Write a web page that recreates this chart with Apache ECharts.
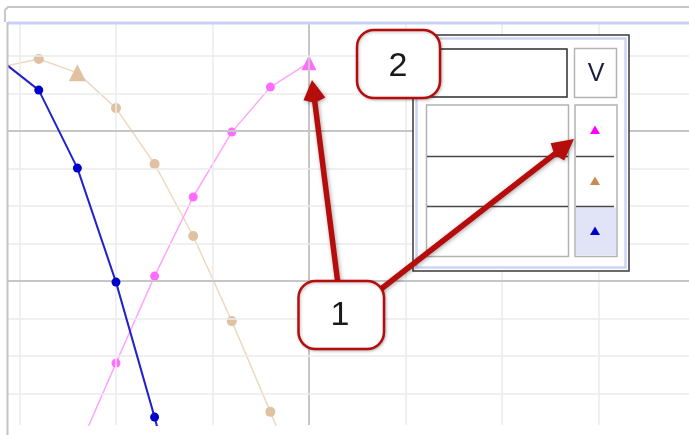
<!DOCTYPE html>
<html>
<head>
<meta charset="utf-8">
<style>
  html, body { margin: 0; padding: 0; background: #fff; }
  #chart { width: 689px; height: 435px; }
</style>
<script src="https://cdn.jsdelivr.net/npm/echarts@6/dist/echarts.min.js"></script>
</head>
<body>
<div id="chart"></div>
<script>
// grid ticks, a darker line every 4 units
const xTicks = [-3, -2, -1, 0, 1, 2, 3];
const yTicks = [-3, -2, -1, 0, 1, 2, 3, 4, 5, 6];
const majorEvery = 4;

// blue trace
const blueX = [-3.2, -2.8, -2.4, -2.0, -1.6, -1.2];
const blueY = [5.9, 5.09, 3.01, -0.03, -3.63, -7.6];
// tan trace
const tanX = [-3.2, -2.8, -2.4, -2.0, -1.6, -1.2, -0.8, -0.4, 0];
const tanY = [5.7, 5.92, 5.55, 4.61, 3.12, 1.2, -1.07, -3.49, -6.0];
// pink trace
const pinkX = [-2.4, -2.0, -1.6, -1.2, -0.8, -0.4, 0];
const pinkY = [-4.55, -2.19, 0.13, 2.24, 3.97, 5.17, 5.82];

// the selected point of each trace is drawn as a triangle
const tanSelected = -2.4;
const pinkSelected = 0;

const chart = echarts.init(document.getElementById('chart'));

function points(xs, ys, selected, triSize) {
    return xs.map((x, i) => {
        if (x === selected) return { value: [x, ys[i]], symbol: 'triangle', symbolSize: triSize };
        return [x, ys[i]];
    });
}

// gridlines as mark lines so they sit on whole units
const minorStyle = { color: '#ebebeb', width: 1.5, type: 'solid' };
const majorStyle = { color: '#c6c6c6', width: 2, type: 'solid' };
const gridLines = []
    .concat(xTicks.map(v => ({ xAxis: v, lineStyle: v % majorEvery === 0 ? majorStyle : minorStyle })))
    .concat(yTicks.map(v => ({ yAxis: v, lineStyle: v % majorEvery === 0 ? majorStyle : minorStyle })));

// arrow outline from (x1,y1) to tip (x2,y2)
function arrowPts(x1, y1, x2, y2, w, hl, hw) {
    const dx = x2 - x1, dy = y2 - y1, len = Math.hypot(dx, dy);
    const ux = dx / len, uy = dy / len, nx = -uy, ny = ux;
    const bx = x2 - ux * hl, by = y2 - uy * hl;
    return [
        [x1 + nx * w / 2, y1 + ny * w / 2],
        [bx + nx * w / 2, by + ny * w / 2],
        [bx + nx * hw / 2 + ux * 3, by + ny * hw / 2 + uy * 3],
        [x2, y2],
        [bx - nx * hw / 2 + ux * 3, by - ny * hw / 2 + uy * 3],
        [bx - nx * w / 2, by - ny * w / 2],
        [x1 - nx * w / 2, y1 - ny * w / 2]
    ];
}

function tri(cx, cy, color) {
    return {
        type: 'polygon', z: 110,
        shape: { points: [[cx, cy - 4.5], [cx + 5, cy + 4], [cx - 5, cy + 4]] },
        style: { fill: color }
    };
}

const red = '#b70c0c';
const arrowStyle = { fill: red, shadowBlur: 4, shadowColor: 'rgba(0,0,0,0.35)', shadowOffsetX: 1, shadowOffsetY: 1 };

const graphics = [
    // top bar
    { type: 'polyline', z: 90, shape: { points: [[5, 22], [5, 10], [8, 7], [689, 7]] }, style: { stroke: '#c8c8c8', lineWidth: 2, fill: null } },
    { type: 'line', z: 90, shape: { x1: 8, y1: 23, x2: 689, y2: 23 }, style: { stroke: '#c9d1f7', lineWidth: 3 } },
    { type: 'line', z: 90, shape: { x1: 7.5, y1: 22, x2: 7.5, y2: 435 }, style: { stroke: '#c4c4c4', lineWidth: 2 } },

    // panel
    { type: 'rect', z: 100, shape: { x: 413, y: 35, width: 216, height: 236 }, style: { fill: '#fff', stroke: '#3a3a3a', lineWidth: 1.5 } },
    { type: 'rect', z: 101, shape: { x: 416.5, y: 38.5, width: 209, height: 229 }, style: { fill: null, stroke: '#cdd5f6', lineWidth: 2.5 } },
    { type: 'rect', z: 102, shape: { x: 428, y: 49, width: 139, height: 48 }, style: { fill: '#fff', stroke: '#2e2e2e', lineWidth: 1.5 } },
    { type: 'rect', z: 102, shape: { x: 574.5, y: 48.5, width: 42, height: 49 }, style: { fill: '#fff', stroke: '#b4b4b4', lineWidth: 1.5 } },
    { type: 'text', z: 103, x: 596, y: 74, style: { text: 'V', font: '25px "Liberation Sans", Arial, sans-serif', fill: '#1c1c40', align: 'center', verticalAlign: 'middle' } },
    { type: 'rect', z: 102, shape: { x: 426.5, y: 105, width: 142, height: 151.5 }, style: { fill: '#fff', stroke: '#b2b2b2', lineWidth: 1.5 } },
    { type: 'rect', z: 102, shape: { x: 575, y: 105, width: 42, height: 151.5 }, style: { fill: '#fff', stroke: '#b2b2b2', lineWidth: 1.5 } },
    { type: 'rect', z: 103, shape: { x: 576, y: 207.5, width: 40, height: 48 }, style: { fill: '#e1e4f7' } },
    { type: 'line', z: 104, shape: { x1: 427, y1: 156.5, x2: 568, y2: 156.5 }, style: { stroke: '#474747', lineWidth: 1.5 } },
    { type: 'line', z: 104, shape: { x1: 427, y1: 206.5, x2: 568, y2: 206.5 }, style: { stroke: '#474747', lineWidth: 1.5 } },
    { type: 'line', z: 104, shape: { x1: 576, y1: 156.5, x2: 614, y2: 156.5 }, style: { stroke: '#474747', lineWidth: 1.5 } },
    { type: 'line', z: 104, shape: { x1: 576, y1: 206.5, x2: 614, y2: 206.5 }, style: { stroke: '#474747', lineWidth: 1.5 } },
    tri(595, 130, '#ff00ff'),
    tri(595, 181, '#c98a4e'),
    tri(595, 231, '#0000cc'),

    // arrows
    { type: 'polygon', z: 120, shape: { points: arrowPts(339, 292, 312, 80, 5.5, 22, 22) }, style: arrowStyle },
    { type: 'polygon', z: 120, shape: { points: arrowPts(372, 296, 574, 139, 5.5, 24, 22) }, style: arrowStyle },

    // callouts
    { type: 'rect', z: 130, shape: { x: 357, y: 30, width: 83, height: 68, r: 17 }, style: { fill: '#fff', stroke: red, lineWidth: 2.5, shadowBlur: 3, shadowColor: 'rgba(0,0,0,0.25)', shadowOffsetX: 1, shadowOffsetY: 1 } },
    { type: 'text', z: 131, x: 398, y: 67, style: { text: '2', font: '34px "Liberation Sans", Arial, sans-serif', fill: '#1a1a1a', align: 'center', verticalAlign: 'middle' } },
    { type: 'rect', z: 130, shape: { x: 298.5, y: 281, width: 85.5, height: 68, r: 17 }, style: { fill: '#fff', stroke: red, lineWidth: 2.5, shadowBlur: 3, shadowColor: 'rgba(0,0,0,0.25)', shadowOffsetX: 1, shadowOffsetY: 1 } },
    { type: 'text', z: 131, x: 340, y: 316, style: { text: '1', font: '34px "Liberation Sans", Arial, sans-serif', fill: '#1a1a1a', align: 'center', verticalAlign: 'middle' } }
];

const option = {
    backgroundColor: '#fff',
    animation: false,
    grid: { left: 8, right: 0, top: 24, bottom: 10 },
    xAxis: {
        type: 'value', min: -3.119, max: 3.938,
        axisLine: { show: false }, axisTick: { show: false }, axisLabel: { show: false }, splitLine: { show: false }
    },
    yAxis: {
        type: 'value', min: -3.84, max: 6.853,
        axisLine: { show: false }, axisTick: { show: false }, axisLabel: { show: false }, splitLine: { show: false }
    },
    series: [
        {
            // gridlines
            type: 'line', data: [], silent: true, z: 1,
            markLine: { symbol: 'none', silent: true, animation: false, label: { show: false }, emphasis: { disabled: true }, data: gridLines }
        },
        {
            type: 'line', z: 3,
            data: points(tanX, tanY, tanSelected, 17),
            symbol: 'circle', symbolSize: 10,
            itemStyle: { color: '#e0c1a2' },
            lineStyle: { color: '#eed8c0', width: 1.5 }
        },
        {
            type: 'line', z: 4,
            data: points(pinkX, pinkY, pinkSelected, 15),
            symbol: 'circle', symbolSize: 9,
            itemStyle: { color: '#ff6cff' },
            lineStyle: { color: '#ffa4ff', width: 1.5 }
        },
        {
            type: 'line', z: 5,
            data: points(blueX, blueY, null, 9),
            symbol: 'circle', symbolSize: 9,
            itemStyle: { color: '#0000cc' },
            lineStyle: { color: '#2222cc', width: 2 }
        }
    ],
    graphic: { elements: graphics }
};

chart.setOption(option);
</script>
</body>
</html>
